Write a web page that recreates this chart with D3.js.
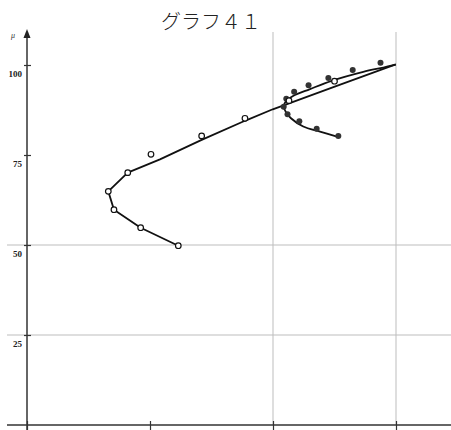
<!DOCTYPE html>
<html>
<head>
<meta charset="utf-8">
<script src="https://cdn.jsdelivr.net/npm/d3@7"></script>
<style>
  html, body { margin: 0; padding: 0; background: #fff; }
  svg { display: block; }
</style>
</head>
<body>
<svg id="chart" width="451" height="430"></svg>
<script>
// Chart title and axis labels
const title = "グラフ４１";
const yLabel = "μ";
const yTicks = [25, 50, 75, 100];
const xTicks = [0, 1, 2, 3];
const yGrid = [25, 50];
const xGrid = [2, 3];

// Open-circle measurements
const openX = [1.23, 0.924, 0.707, 0.661, 0.819, 1.008, 1.42, 1.772, 2.50, 2.13];
const openY = [49.8, 54.8, 59.8, 64.9, 70.1, 75.2, 80.3, 85.2, 95.5, 90.1];

// Filled-dot measurements
const filledX = [2.874, 2.648, 2.45, 2.289, 2.172, 2.108, 2.087, 2.118, 2.214, 2.355, 2.531];
const filledY = [100.6, 98.6, 96.4, 94.4, 92.6, 90.6, 88.4, 86.3, 84.4, 82.3, 80.3];

// Fitted curve through the open circles
const mainX = [1.23, 0.924, 0.707, 0.661, 0.819, 1.081, 1.42, 1.772, 1.998, 2.463, 2.998];
const mainY = [49.8, 54.8, 59.8, 64.9, 70.1, 73.8, 79.2, 84.5, 87.7, 93.5, 100.2];

// Fitted curves through the filled dots (upper and lower branches)
const upperX = [2.084, 2.106, 2.163, 2.301, 2.477, 2.734, 2.897, 2.998];
const upperY = [88.4, 90.0, 91.4, 93.3, 95.6, 98.1, 99.3, 100.1];
const lowerX = [2.084, 2.106, 2.146, 2.246, 2.382, 2.520];
const lowerY = [88.4, 86.9, 85.2, 82.9, 81.5, 80.1];

const svg = d3.select("#chart");
const x = d3.scaleLinear().domain([0, 3]).range([27, 396]);
const y = d3.scaleLinear().domain([0, 100]).range([425, 65]);

const zip = (xs, ys) => xs.map((v, i) => [v, ys[i]]);

// Grid lines
svg.append("g").selectAll("line").data(yGrid).join("line")
  .attr("x1", 7).attr("x2", 451)
  .attr("y1", d => y(d)).attr("y2", d => y(d))
  .attr("stroke", "#bdbdbd").attr("stroke-width", 1);
svg.append("g").selectAll("line").data(xGrid).join("line")
  .attr("x1", d => x(d)).attr("x2", d => x(d))
  .attr("y1", 32).attr("y2", 425)
  .attr("stroke", "#bdbdbd").attr("stroke-width", 1);

// X axis
const xAxis = svg.append("g").attr("transform", "translate(0,425)")
  .call(d3.axisBottom(x).tickValues(xTicks).tickSize(5).tickSizeOuter(0).tickFormat(""));
xAxis.select(".domain").remove();
xAxis.selectAll(".tick line").attr("y1", -4).attr("stroke", "#333").attr("stroke-width", 1.2);
svg.append("line").attr("x1", 7).attr("x2", 451).attr("y1", 425).attr("y2", 425)
  .attr("stroke", "#333").attr("stroke-width", 1.5);

// Y axis
const yAxis = svg.append("g").attr("transform", "translate(27,0)")
  .call(d3.axisLeft(y).tickValues(yTicks).tickSize(3).tickSizeOuter(0));
yAxis.select(".domain").remove();
yAxis.selectAll(".tick line").attr("x2", 4).attr("x1", -3).attr("stroke", "#333").attr("stroke-width", 1.2);
yAxis.selectAll(".tick text")
  .attr("x", -5).attr("dy", "1.25em")
  .attr("font-family", "'Liberation Serif', serif")
  .attr("font-weight", "bold").attr("font-size", 9).attr("fill", "#222");
svg.append("line").attr("x1", 27).attr("x2", 27).attr("y1", 430).attr("y2", 36)
  .attr("stroke", "#333").attr("stroke-width", 1.5);
svg.append("path").attr("d", "M27,29 L23.5,38 L30.5,38 Z").attr("fill", "#222");
svg.append("text").attr("x", 13).attr("y", 38)
  .attr("font-family", "'Liberation Serif', serif").attr("font-style", "italic")
  .attr("font-size", 8).attr("fill", "#333").attr("text-anchor", "middle").text(yLabel);

// Title
svg.append("text").attr("x", 211).attr("y", 29)
  .attr("text-anchor", "middle")
  .attr("font-family", "'Noto Sans CJK JP', sans-serif")
  .attr("font-weight", 300)
  .attr("font-size", 20).attr("fill", "#222").text(title);

// Curves
const line = d3.line().x(d => x(d[0])).y(d => y(d[1]));
const smooth = d3.line().x(d => x(d[0])).y(d => y(d[1])).curve(d3.curveCatmullRom.alpha(0.5));
svg.append("path").datum(zip(mainX, mainY)).attr("d", line)
  .attr("fill", "none").attr("stroke", "#111").attr("stroke-width", 1.8).attr("stroke-linejoin", "round");
svg.append("path").datum(zip(upperX, upperY)).attr("d", smooth)
  .attr("fill", "none").attr("stroke", "#111").attr("stroke-width", 1.8);
svg.append("path").datum(zip(lowerX, lowerY)).attr("d", smooth)
  .attr("fill", "none").attr("stroke", "#111").attr("stroke-width", 1.8);

// Points
svg.append("g").selectAll("circle").data(zip(filledX, filledY)).join("circle")
  .attr("cx", d => x(d[0])).attr("cy", d => y(d[1])).attr("r", 3)
  .attr("fill", "#333");
svg.append("g").selectAll("circle").data(zip(openX, openY)).join("circle")
  .attr("cx", d => x(d[0])).attr("cy", d => y(d[1])).attr("r", 2.8)
  .attr("fill", "#fff").attr("stroke", "#111").attr("stroke-width", 1.2);
</script>
</body>
</html>
